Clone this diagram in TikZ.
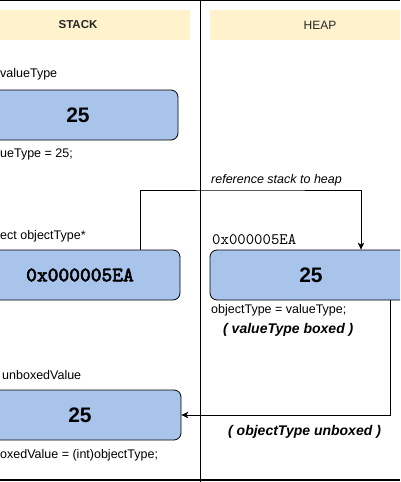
\documentclass[tikz,border=0pt]{standalone}
\usepackage{fontspec}
\setmainfont{Liberation Sans}
\newfontfamily\boldmono{lmmono10-regular.otf}[FakeBold=3]
\newfontfamily\plainmono{lmmono10-regular.otf}
\usetikzlibrary{arrows.meta}
\definecolor{boxblue}{HTML}{A9C4EB}
\definecolor{headyellow}{HTML}{FFF2CC}
\begin{document}
\begin{tikzpicture}[x=1pt,y=-1pt,
  membox/.style={draw=black, line width=0.8pt, fill=boxblue, rounded corners=7pt,
    minimum height=50pt, inner sep=0pt},
  header/.style={fill=headyellow, minimum height=30pt, inner sep=0pt, text=black!85},
  lbl/.style={anchor=west, inner sep=0pt, font=\fontsize{12.5}{15}\selectfont},
  note/.style={anchor=west, inner sep=0pt, font=\fontsize{14}{16}\selectfont\bfseries\itshape},
  big/.style={font=\fontsize{21}{24}\selectfont\bfseries},
  link/.style={draw=black, line width=0.8pt, -{Stealth[length=7pt,width=6.5pt,inset=2pt]}},
  frame/.style={draw=black, line width=1.2pt}
]
\useasboundingbox (0,0) rectangle (400,482);
\clip (0,0) rectangle (400,482);
\fill[white] (0,0) rectangle (400,482);

% headers
\node[header, minimum width=224pt, font=\fontsize{11.5}{13}\selectfont\bfseries] (hstack) at (78,25) {STACK};
\node[header, minimum width=220pt, font=\fontsize{12}{14}\selectfont] (hheap) at (320,25) {HEAP};

% frame lines
\draw[frame] (0,0.5) -- (400,0.5);
\draw[frame] (0,480) -- (400,480);
\draw[black, line width=0.8pt] (200.5,0) -- (200.5,482);

% stack boxes
\node[lbl] (l1) at (0,74) {valueType};
\node[membox, minimum width=200pt, big] (b1) at (78,115) {25};
\node[lbl] (l1b) at (0,154) {ueType = 25;};

\node[lbl] (l2) at (0,236) {ect objectType*};
\node[membox, minimum width=200pt, font=\boldmono\fontsize{20.5}{22}\selectfont] (b2) at (80,275) {0x000005EA};

\node[lbl] (l4) at (2,375) {unboxedValue};
\node[membox, minimum width=202pt, big] (b4) at (80,415) {25};
\node[lbl] (l4b) at (0,455) {oxedValue = (int)objectType;};

% heap box
\node[lbl, font=\fontsize{12.5}{15}\selectfont\itshape] (ref) at (211,180) {reference stack to heap};
\node[anchor=west, inner sep=0pt, font=\plainmono\fontsize{16}{18}\selectfont] (addr) at (212,240) {0x000005EA};
\node[membox, minimum width=202pt, big] (b3) at (311,275) {25};
\node[lbl] (l3) at (211,310) {objectType = valueType;};
\node[note] (n1) at (223,330) {( valueType boxed )};
\node[note] (n2) at (228,432) {( objectType unboxed )};

% connectors
\coordinate (r1) at (250,190);
\draw[link] ([xshift=60pt]b2.north) |- (r1) -| ([xshift=50pt]b3.north);
\draw[link] ([xshift=79pt]b3.south) |- (b4.east);
\end{tikzpicture}
\end{document}
